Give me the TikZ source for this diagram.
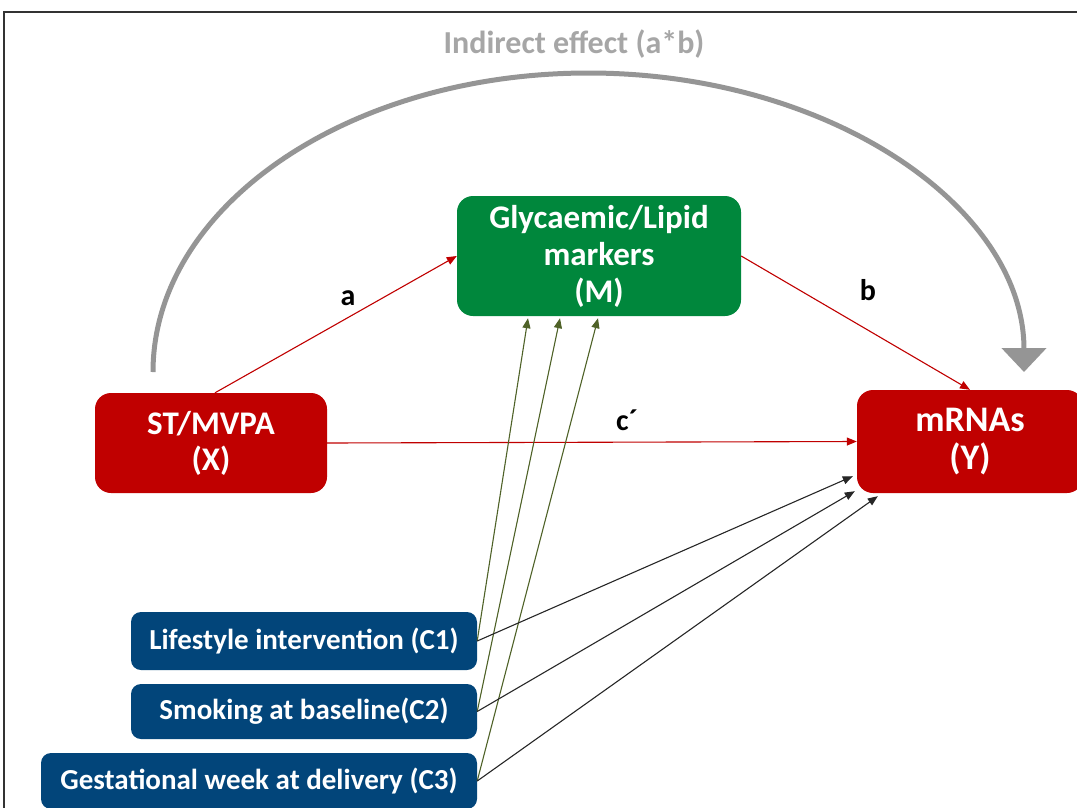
\documentclass[tikz,border=0pt]{standalone}
\usepackage{fontspec}
\setmainfont{Carlito}
\usetikzlibrary{arrows.meta}
\definecolor{boxred}{HTML}{C00000}
\definecolor{boxgreen}{HTML}{00873C}
\definecolor{boxblue}{HTML}{02457A}
\definecolor{lineolive}{HTML}{4F6228}
\definecolor{effectgray}{HTML}{A6A6A6}
\tikzset{
  varbox/.style={rounded corners=16pt, inner sep=0pt, text=white, align=center},
  covbox/.style={rounded corners=10pt, inner sep=0pt, text=white, fill=boxblue,
    font=\bfseries\fontsize{29}{32}\selectfont},
  pathlabel/.style={font=\bfseries\fontsize{30}{34}\selectfont, text=black},
  redlink/.style={draw=boxred, line width=1.1pt, -{Triangle[length=10pt,width=8pt]}},
  greenlink/.style={draw=lineolive, line width=1.1pt, -{Triangle[length=10pt,width=8pt]}},
  blacklink/.style={draw=black!85, line width=1.1pt, -{Triangle[length=10pt,width=8pt]}},
}
\begin{document}
\begin{tikzpicture}[x=1pt, y=-1pt]
\useasboundingbox (0,0) rectangle (1077,807);
% frame
\draw[line width=1.5pt, black!80] (4,830) -- (4,12) -- (1100,12);

% variables
\node[varbox, fill=boxgreen, minimum width=284pt, minimum height=120pt,
  font=\bfseries\fontsize{33}{37}\selectfont] (M) at (599,256)
  {Glycaemic/Lipid\\markers\\(M)};
\node[varbox, fill=boxred, minimum width=232pt, minimum height=100pt,
  font=\bfseries\fontsize{33}{36}\selectfont] (X) at (211,443)
  {ST/MVPA\\(X)};
\node[varbox, fill=boxred, minimum width=226pt, minimum height=103pt,
  font=\bfseries\fontsize{36}{38}\selectfont] (Y) at (970,441.5)
  {mRNAs\\(Y)};

% covariates
\node[covbox, minimum width=346pt, minimum height=58pt] (C1) at (304,641) {Lifestyle intervention (C1)};
\node[covbox, minimum width=346pt, minimum height=55pt] (C2) at (304,711.5) {Smoking at baseline(C2)};
\node[covbox, minimum width=436pt, minimum height=56pt] (C3) at (259,781) {Gestational week at delivery (C3)};

% indirect effect
\node[font=\bfseries\fontsize{32}{36}\selectfont, text=effectgray] (ind) at (574,44) {Indirect effect (a*b)};
\coordinate (arcstart) at (153,372);
\draw[effectgray!90!black, line width=5pt, -{Triangle[width=44pt,length=24pt]}]
  (arcstart) arc[start angle=180, end angle=0, x radius=435.5pt, y radius=299pt];

% direct and mediated paths
\draw[redlink] ([xshift=4pt]X.north) -- (M.west);
\draw[redlink] (M.east) -- (Y.north);
\draw[redlink] (X.east) -- (Y.west);
\node[pathlabel] (la) at (348,298) {a};
\node[pathlabel] (lb) at (868,290) {b};
\node[pathlabel] (lc) at (627,420) {c´};

% covariates to mediator
\draw[greenlink] (C1.east) -- ([shift={(-71,2)}]M.south);
\draw[greenlink] (C2.east) -- ([shift={(-39,2)}]M.south);
\draw[greenlink] (C3.east) -- ([shift={(-1,2)}]M.south);

% covariates to outcome
\draw[blacklink] (C1.east) -- ([shift={(-4,-17)}]Y.south west);
\draw[blacklink] (C2.east) -- ([shift={(-2,-2)}]Y.south west);
\draw[blacklink] (C3.east) -- ([shift={(21,3)}]Y.south west);
\end{tikzpicture}
\end{document}
